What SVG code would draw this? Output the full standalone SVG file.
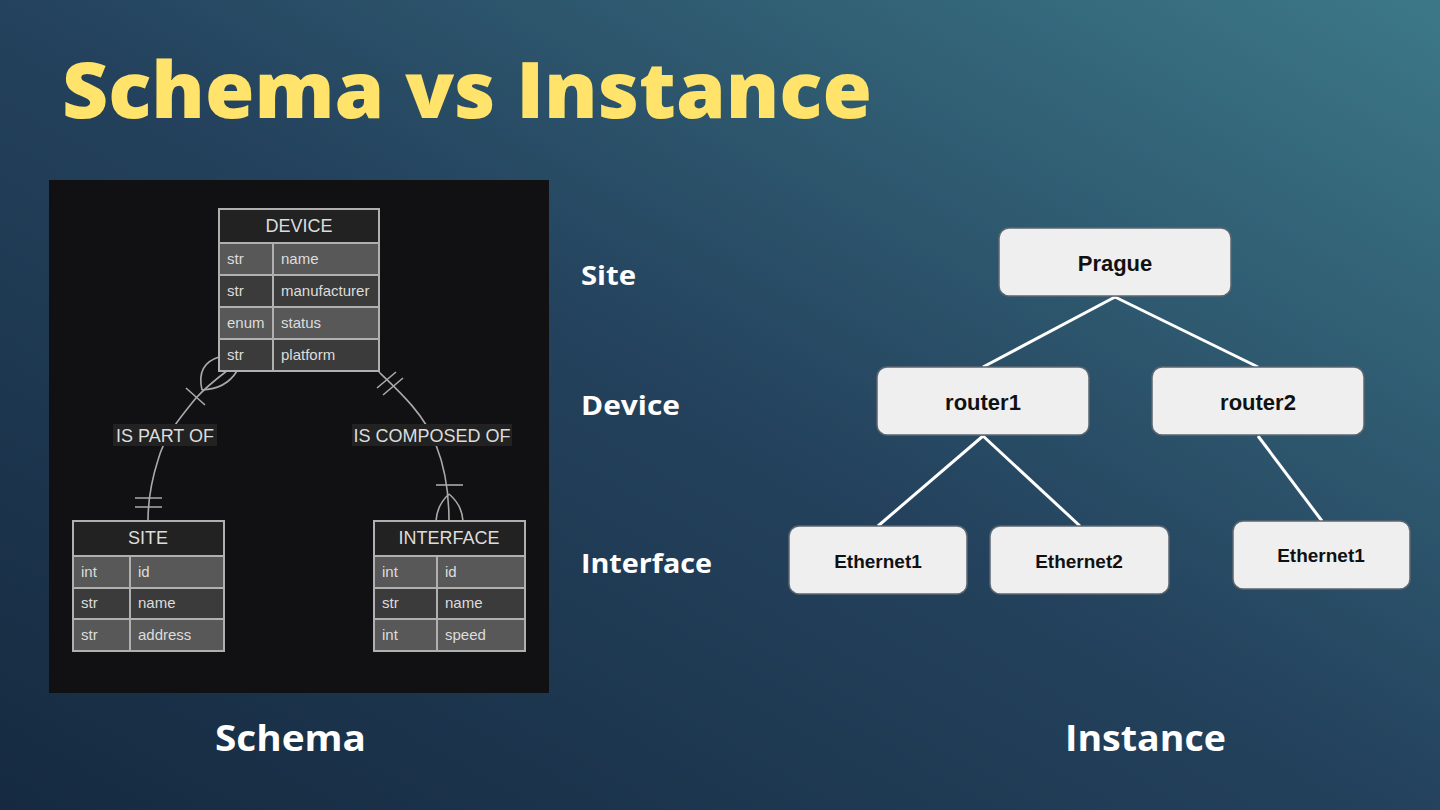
<svg xmlns="http://www.w3.org/2000/svg" width="1440" height="810" viewBox="0 0 1440 810">
<defs>
<linearGradient id="bg" x1="0" y1="1" x2="1" y2="0">
<stop offset="0" stop-color="#152a40"/>
<stop offset="0.5" stop-color="#24425d"/>
<stop offset="1" stop-color="#3c7888"/>
</linearGradient>
<style>
.title{font-family:"Open Sans","Liberation Sans",sans-serif;font-weight:800;fill:#ffe36a}
.lbl{font-family:"Open Sans","Liberation Sans",sans-serif;font-weight:700;fill:#ffffff}
.hdr{fill:#222222;stroke:#b0b0b0;stroke-width:2}
.ra{fill:#585858;stroke:#b0b0b0;stroke-width:2}
.rb{fill:#3b3b3b;stroke:#b0b0b0;stroke-width:2}
.ht{font-family:"Liberation Sans",Arial,sans-serif;font-size:18px;fill:#dddddd;text-anchor:middle}
.ct{font-family:"Liberation Sans",Arial,sans-serif;font-size:15px;fill:#dddddd}
.er{fill:none;stroke:#aaaaaa;stroke-width:1.6}
.rel{font-family:"Liberation Sans",Arial,sans-serif;font-size:18px;fill:#dddddd;text-anchor:middle}
.node{fill:#efefef;stroke:#5c6670;stroke-width:1.5}
.nt{font-family:"Liberation Sans",Arial,sans-serif;font-weight:700;fill:#111111;text-anchor:middle}
.edge{stroke:#ffffff;stroke-width:3;fill:none}
</style>
</defs>
<rect width="1440" height="810" fill="url(#bg)"/>
<text class="title" x="62" y="118" font-size="78" textLength="810" lengthAdjust="spacingAndGlyphs">Schema vs Instance</text>

<rect x="49" y="180" width="500" height="513" fill="#111113"/>

<g id="er-connectors">
<path class="er" d="M228,370 C215,380 205,388 196,398 C180,418 165,435 158,460 C150,485 148,505 148,521"/>
<path class="er" d="M202,390 Q196,364 219,357"/>
<path class="er" d="M202,390 Q226,389 237,371"/>
<path class="er" d="M186,388 L205,405"/>
<path class="er" d="M135,498 L162,498 M135,507 L162,507"/>
<path class="er" d="M379,372 C400,392 425,415 436,445 C446,470 449,495 449,521"/>
<path class="er" d="M377,388 L396,372 M383,395 L403,378"/>
<path class="er" d="M436,485 L463,485"/>
<path class="er" d="M449,494 Q437,505 436,521 M449,494 Q462,505 463,521"/>
<rect x="113" y="424" width="104" height="22" fill="#222222"/>
<text class="rel" x="165" y="442">IS PART OF</text>
<rect x="352" y="424" width="160" height="22" fill="#222222"/>
<text class="rel" x="432" y="442">IS COMPOSED OF</text>
</g>

<g id="device">
<rect class="hdr" x="219" y="209" width="160" height="34"/>
<text class="ht" x="299" y="232">DEVICE</text>
<rect class="ra" x="219" y="243" width="54" height="32"/><rect class="ra" x="273" y="243" width="106" height="32"/>
<rect class="rb" x="219" y="275" width="54" height="32"/><rect class="rb" x="273" y="275" width="106" height="32"/>
<rect class="ra" x="219" y="307" width="54" height="32"/><rect class="ra" x="273" y="307" width="106" height="32"/>
<rect class="rb" x="219" y="339" width="54" height="32"/><rect class="rb" x="273" y="339" width="106" height="32"/>
<text class="ct" x="227" y="264">str</text><text class="ct" x="281" y="264">name</text>
<text class="ct" x="227" y="296">str</text><text class="ct" x="281" y="296">manufacturer</text>
<text class="ct" x="227" y="328">enum</text><text class="ct" x="281" y="328">status</text>
<text class="ct" x="227" y="360">str</text><text class="ct" x="281" y="360">platform</text>
</g>

<g id="site">
<rect class="hdr" x="73" y="521" width="151" height="35"/>
<text class="ht" x="148" y="544">SITE</text>
<rect class="ra" x="73" y="556" width="57" height="32"/><rect class="ra" x="130" y="556" width="94" height="32"/>
<rect class="rb" x="73" y="588" width="57" height="31"/><rect class="rb" x="130" y="588" width="94" height="31"/>
<rect class="ra" x="73" y="619" width="57" height="32"/><rect class="ra" x="130" y="619" width="94" height="32"/>
<text class="ct" x="81" y="577">int</text><text class="ct" x="138" y="577">id</text>
<text class="ct" x="81" y="608">str</text><text class="ct" x="138" y="608">name</text>
<text class="ct" x="81" y="640">str</text><text class="ct" x="138" y="640">address</text>
</g>

<g id="interface">
<rect class="hdr" x="374" y="521" width="151" height="35"/>
<text class="ht" x="449" y="544">INTERFACE</text>
<rect class="ra" x="374" y="556" width="63" height="32"/><rect class="ra" x="437" y="556" width="88" height="32"/>
<rect class="rb" x="374" y="588" width="63" height="31"/><rect class="rb" x="437" y="588" width="88" height="31"/>
<rect class="ra" x="374" y="619" width="63" height="32"/><rect class="ra" x="437" y="619" width="88" height="32"/>
<text class="ct" x="382" y="577">int</text><text class="ct" x="445" y="577">id</text>
<text class="ct" x="382" y="608">str</text><text class="ct" x="445" y="608">name</text>
<text class="ct" x="382" y="640">int</text><text class="ct" x="445" y="640">speed</text>
</g>

<text class="lbl" x="581" y="285" font-size="27" textLength="55" lengthAdjust="spacingAndGlyphs">Site</text>
<text class="lbl" x="581" y="415" font-size="27" textLength="99" lengthAdjust="spacingAndGlyphs">Device</text>
<text class="lbl" x="581" y="573" font-size="27" textLength="131" lengthAdjust="spacingAndGlyphs">Interface</text>
<text class="lbl" x="215" y="751" font-size="36" textLength="151" lengthAdjust="spacingAndGlyphs">Schema</text>
<text class="lbl" x="1065" y="751" font-size="36" textLength="161" lengthAdjust="spacingAndGlyphs">Instance</text>

<g id="tree-edges">
<line class="edge" x1="1115" y1="297" x2="983" y2="367"/>
<line class="edge" x1="1115" y1="297" x2="1258" y2="367"/>
<line class="edge" x1="983" y1="436" x2="878" y2="526"/>
<line class="edge" x1="983" y1="436" x2="1080" y2="526"/>
<line class="edge" x1="1258" y1="436" x2="1322" y2="521"/>
</g>

<g id="prague"><rect class="node" x="999" y="228" width="232" height="68" rx="10"/><text class="nt" x="1115" y="271" font-size="22">Prague</text></g>
<g id="router1"><rect class="node" x="877" y="367" width="212" height="68" rx="10"/><text class="nt" x="983" y="410" font-size="22">router1</text></g>
<g id="router2"><rect class="node" x="1152" y="367" width="212" height="68" rx="10"/><text class="nt" x="1258" y="410" font-size="22">router2</text></g>
<g id="eth1a"><rect class="node" x="789" y="526" width="178" height="68" rx="10"/><text class="nt" x="878" y="568" font-size="19">Ethernet1</text></g>
<g id="eth2"><rect class="node" x="990" y="526" width="179" height="68" rx="10"/><text class="nt" x="1079" y="568" font-size="19">Ethernet2</text></g>
<g id="eth1b"><rect class="node" x="1233" y="521" width="177" height="68" rx="10"/><text class="nt" x="1321" y="562" font-size="19">Ethernet1</text></g>
</svg>
